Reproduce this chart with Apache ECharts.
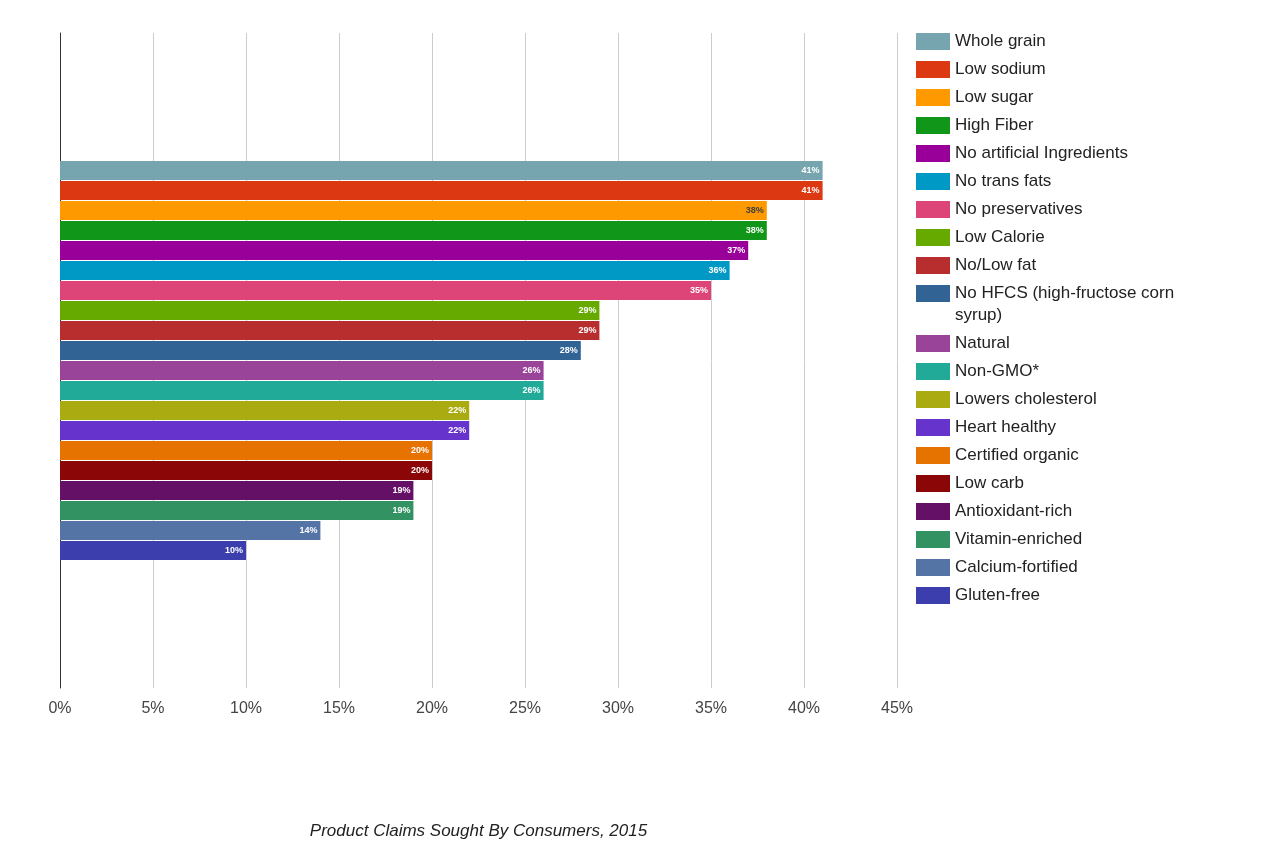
<!DOCTYPE html>
<html>
<head>
<meta charset="utf-8">
<script src="https://cdn.jsdelivr.net/npm/echarts@6/dist/echarts.min.js"></script>
<style>html,body{margin:0;padding:0;background:#fff}#c{width:1276px;height:864px}</style>
</head>
<body>
<div id="c"></div>
<script>
const categories = ['Product Claims Sought By Consumers, 2015'];
const seriesNames = ['Whole grain','Low sodium','Low sugar','High Fiber','No artificial Ingredients','No trans fats','No preservatives','Low Calorie','No/Low fat','No HFCS (high-fructose corn syrup)','Natural','Non-GMO*','Lowers cholesterol','Heart healthy','Certified organic','Low carb','Antioxidant-rich','Vitamin-enriched','Calcium-fortified','Gluten-free'];
const seriesValues = [41,41,38,38,37,36,35,29,29,28,26,26,22,22,20,20,19,19,14,10];
const colors = ['#76a5af','#dc3912','#ff9900','#109618','#990099','#0099c6','#dd4477','#66aa00','#b82e2e','#316395','#994499','#22aa99','#aaaa11','#6633cc','#e67300','#8b0707','#651067','#329262','#5574a6','#3b3eac'];
const labelColors = ['#fff','#fff','#404040','#fff','#fff','#fff','#fff','#fff','#fff','#fff','#fff','#fff','#fff','#fff','#fff','#fff','#fff','#fff','#fff','#fff'];
const xTicks = [0,5,10,15,20,25,30,35,40,45];

const FONT = 'Arial, "Liberation Sans", sans-serif';
const legendBase = {
  orient: 'vertical', left: 916, padding: 0, icon: 'rect',
  itemWidth: 34, itemHeight: 17, itemGap: 6,
  textStyle: { fontFamily: FONT, fontSize: 17, color: '#222', lineHeight: 22 }
};
const chart = echarts.init(document.getElementById('c'));
chart.setOption({
  animation: false,
  grid: { left: 60, right: 379, top: 33, bottom: 176, containLabel: false },
  legend: [
    Object.assign({}, legendBase, { top: 30.5, data: seriesNames.slice(0, 9) }),
    Object.assign({}, legendBase, { top: 260.5, data: seriesNames.slice(9, 10),
      formatter: () => '\nNo HFCS (high-fructose corn\nsyrup)' }),
    Object.assign({}, legendBase, { top: 332.5, data: seriesNames.slice(10) })
  ],
  xAxis: {
    type: 'value', min: xTicks[0], max: xTicks[xTicks.length - 1], interval: 5,
    name: categories[0], nameLocation: 'middle', nameGap: 135,
    nameTextStyle: { fontFamily: FONT, fontSize: 17, fontStyle: 'italic', color: '#222' },
    axisLine: { show: false }, axisTick: { show: false },
    axisLabel: { formatter: '{value}%', fontFamily: FONT, fontSize: 16, color: '#444', margin: 13 },
    splitLine: { lineStyle: { color: '#cccccc', width: 1 } }
  },
  yAxis: {
    type: 'category', data: [''],
    axisLine: { show: true, lineStyle: { color: '#333', width: 1 } },
    axisTick: { show: false }, axisLabel: { show: false }, splitLine: { show: false }
  },
  series: seriesNames.map((n, i) => ({
    name: n, type: 'bar', data: [seriesValues[i]],
    barWidth: 19, barGap: '5.3%',
    itemStyle: { color: colors[i] },
    label: { show: true, position: 'insideRight', distance: 3, formatter: '{c}%',
      fontFamily: FONT, fontSize: 9, fontWeight: 'bold', color: labelColors[i] },
    emphasis: { disabled: true }
  }))
});
</script>
</body>
</html>
